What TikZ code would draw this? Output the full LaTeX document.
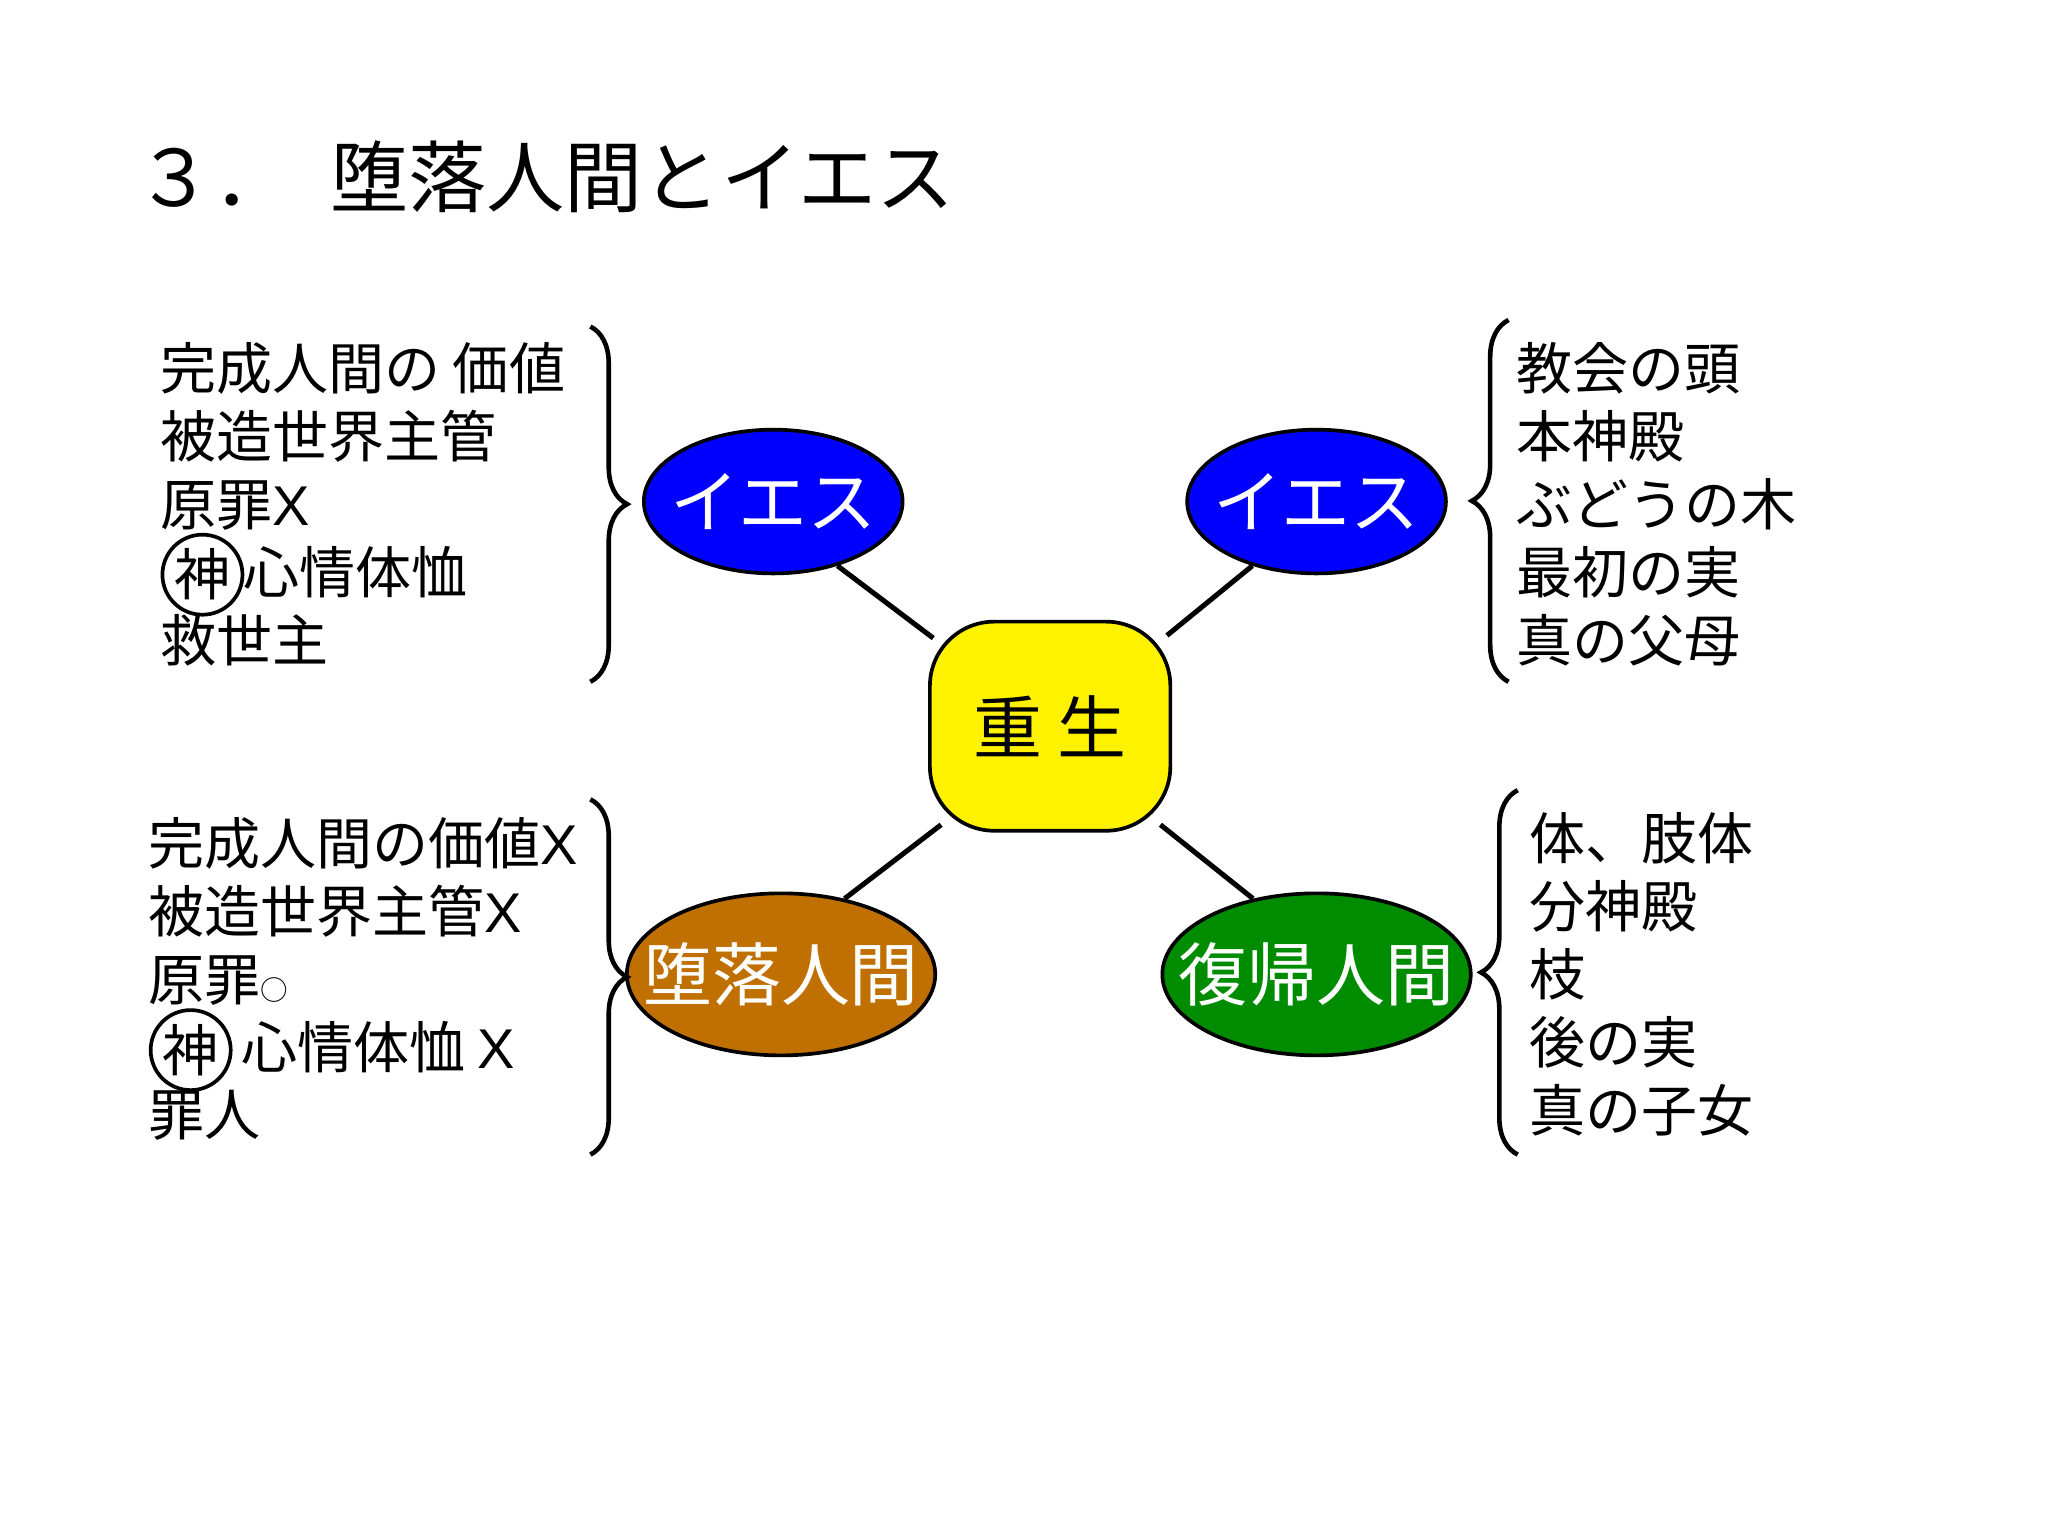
\documentclass[tikz,border=0pt]{standalone}
\usepackage{fontspec}
\setmainfont{Noto Sans CJK JP}
\newfontfamily\latinf{Liberation Sans}
\usetikzlibrary{decorations.pathreplacing,shapes.geometric}
\definecolor{fallc}{RGB}{192,112,0}
\definecolor{retc}{RGB}{0,140,0}
\tikzset{
 ell/.style={ellipse,draw=black,thick,inner sep=0},
 etxt/.style={text=white,font=\fontsize{15pt}{15pt}\selectfont,inner sep=0},
 lst/.style={anchor=west,align=left,font=\fontsize{12.2pt}{14.8pt}\selectfont,inner sep=0},
 txt/.style={anchor=west,font=\fontsize{12.2pt}{14pt}\selectfont,inner sep=0},
 br/.style={decorate,decoration={brace,amplitude=8pt},line width=1pt},
 conn/.style={line width=1.1pt},
 circ/.style={circle,draw,line width=0.8pt,inner sep=0.3pt,font=\fontsize{12.2pt}{14pt}\selectfont}
}
\begin{document}
\begin{tikzpicture}[x=0.01cm,y=-0.01cm]
\useasboundingbox (0,0) rectangle (1568,1176);
\node[anchor=west,inner sep=0,font=\fontsize{17pt}{17pt}\selectfont] (title) at (103,135) {３．\hspace{0.5em}堕落人間とイエス};
\node[draw,thick,fill=yellow,rounded corners=14pt,minimum width=1.84cm,minimum height=1.6cm,font=\fontsize{15pt}{15pt}\selectfont] (c) at (804,556) {重 生};
\node[ell,fill=blue,minimum width=1.98cm,minimum height=1.1cm] (e1) at (592,384) {};
\node[etxt] at (e1) {イエス};
\node[ell,fill=blue,minimum width=1.98cm,minimum height=1.1cm] (e2) at (1008,384) {};
\node[etxt] at (e2) {イエス};
\node[ell,fill=fallc,minimum width=2.36cm,minimum height=1.24cm] (e3) at (598,746) {};
\node[etxt] at (e3) {堕落人間};
\node[ell,fill=retc,minimum width=2.36cm,minimum height=1.24cm] (e4) at (1008,746) {};
\node[etxt] at (e4) {復帰人間};
\draw[conn] (e1.-45) -- ([shift={(4,14)}]c.north west);
\draw[conn] (e2.-135) -- ([shift={(-4,12)}]c.north east);
\draw[conn] (e3.50) -- ([shift={(10,-6)}]c.south west);
\draw[conn] (e4.130) -- ([shift={(-9,-6)}]c.south east);
% top left
\node[lst] (tl) at (122,334) {完成人間の 価値\\被造世界主管\\原罪{\latinf X}};
\node[circ] (tlc) at (155,440) {神};
\node[txt] (tl2) at (186,438) {心情体恤};
\node[txt] (tl3) at (122,490) {救世主};
\draw[br] (452,250) -- (452,522);
% top right
\node[lst] (tr) at (1160,386) {教会の頭\\本神殿\\ぶどうの木\\最初の実\\真の父母};
\draw[br] (1155,522) -- (1155,245);
% bottom left
\node[lst] (bl) at (113,698) {完成人間の価値{\latinf X}\\被造世界主管{\latinf X}\\原罪{\fontsize{6pt}{6pt}\selectfont ○}};
\node[circ] (blc) at (146,804) {神};
\node[txt] (bl2) at (184,802) {心情体恤 {\latinf X}};
\node[txt] (bl3) at (113,854) {罪人};
\draw[br] (452,612) -- (452,884);
% bottom right
\node[lst] (brt) at (1170,746) {体、肢体\\分神殿\\枝\\後の実\\真の子女};
\draw[br] (1162,884) -- (1162,605);
\end{tikzpicture}
\end{document}
